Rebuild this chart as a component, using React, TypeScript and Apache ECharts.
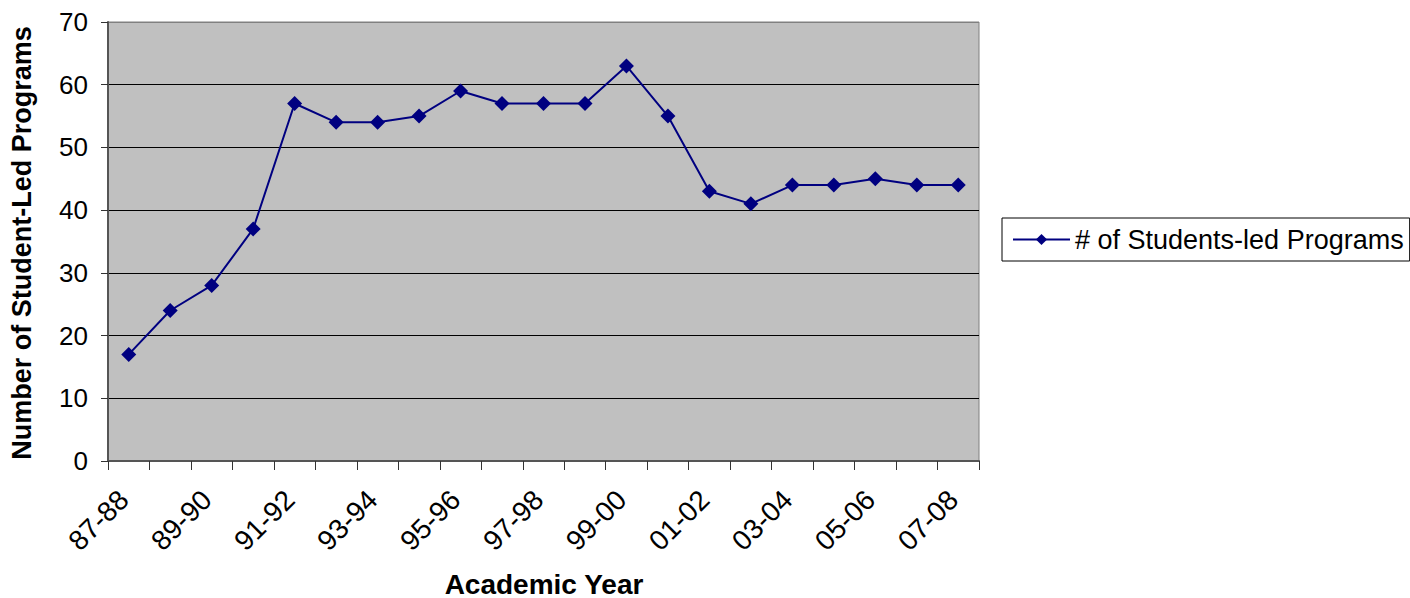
import React, { useEffect, useRef } from "react";
import * as echarts from "echarts";

const categories = [
  "87-88", "88-89", "89-90", "90-91", "91-92", "92-93", "93-94", "94-95",
  "95-96", "96-97", "97-98", "98-99", "99-00", "00-01", "01-02", "02-03",
  "03-04", "04-05", "05-06", "06-07", "07-08",
];
const programs = [17, 24, 28, 37, 57, 54, 54, 55, 59, 57, 57, 57, 63, 55, 43, 41, 44, 44, 45, 44, 44];
const seriesName = "# of Students-led Programs";
const yTitle = "Number of Student-Led Programs";
const xTitle = "Academic Year";
const yMin = 0;
const yMax = 70;
const yStep = 10;

const FONT = "'Liberation Sans', Arial, sans-serif";

export default function App() {
  const ref = useRef<HTMLDivElement>(null);
  useEffect(() => {
    if (!ref.current) return;
    const chart = echarts.init(ref.current, undefined, { renderer: "svg" });
    chart.setOption({
      animation: false,
      backgroundColor: "#ffffff",
      textStyle: { fontFamily: FONT },
      grid: {
        left: 108,
        right: 431,
        top: 22,
        bottom: 137,
        show: true,
        backgroundColor: "#C0C0C0",
        borderColor: "#808080",
        borderWidth: 1,
      },
      legend: {
        left: 1002,
        top: 218,
        orient: "horizontal",
        padding: [8, 6, 8, 10],
        borderColor: "#000000",
        borderWidth: 1,
        backgroundColor: "#ffffff",
        itemWidth: 57,
        itemHeight: 14,
        textStyle: { fontFamily: FONT, fontSize: 27, color: "#000000" },
        data: [seriesName],
      },
      xAxis: {
        type: "category",
        data: categories,
        boundaryGap: true,
        axisLine: { show: true, lineStyle: { color: "#555555", width: 2 } },
        axisTick: { show: true, length: 9, interval: 0, alignWithLabel: false, lineStyle: { color: "#333333", width: 1 } },
        axisLabel: {
          interval: 1,
          rotate: 45,
          margin: 29,
          padding: [0, 7, 0, 0],
          fontFamily: FONT,
          fontSize: 28,
          color: "#000000",
        },
        splitLine: { show: false },
      },
      yAxis: {
        type: "value",
        min: yMin,
        max: yMax,
        interval: yStep,
        axisLine: { show: true, lineStyle: { color: "#555555", width: 2 } },
        axisTick: { show: true, length: 7, lineStyle: { color: "#333333", width: 1 } },
        axisLabel: { margin: 20, fontFamily: FONT, fontSize: 26, color: "#000000" },
        splitLine: {
          show: true,
          lineStyle: {
            color: ["#000000", "#000000", "#000000", "#000000", "#000000", "#000000", "#000000", "#808080"],
            width: 1,
          },
        },
      },
      graphic: [
        {
          type: "text",
          x: 22,
          y: 243,
          rotation: Math.PI / 2,
          style: {
            text: yTitle,
            fontFamily: FONT,
            fontWeight: "bold",
            fontSize: 27,
            fill: "#000000",
            textAlign: "center",
            textVerticalAlign: "middle",
          },
        },
        {
          type: "text",
          x: 544,
          y: 584,
          style: {
            text: xTitle,
            fontFamily: FONT,
            fontWeight: "bold",
            fontSize: 28,
            fill: "#000000",
            textAlign: "center",
            textVerticalAlign: "middle",
          },
        },
      ],
      series: [
        {
          name: seriesName,
          type: "line",
          data: programs,
          symbol: "diamond",
          symbolSize: 15,
          showSymbol: true,
          lineStyle: { color: "#000080", width: 2 },
          itemStyle: { color: "#000080" },
          emphasis: { disabled: true },
        },
      ],
    });
    return () => chart.dispose();
  }, []);
  return (
    <div
      ref={ref}
      style={{ position: "absolute", left: 0, top: 0, width: 1410, height: 598 }}
    />
  );
}
